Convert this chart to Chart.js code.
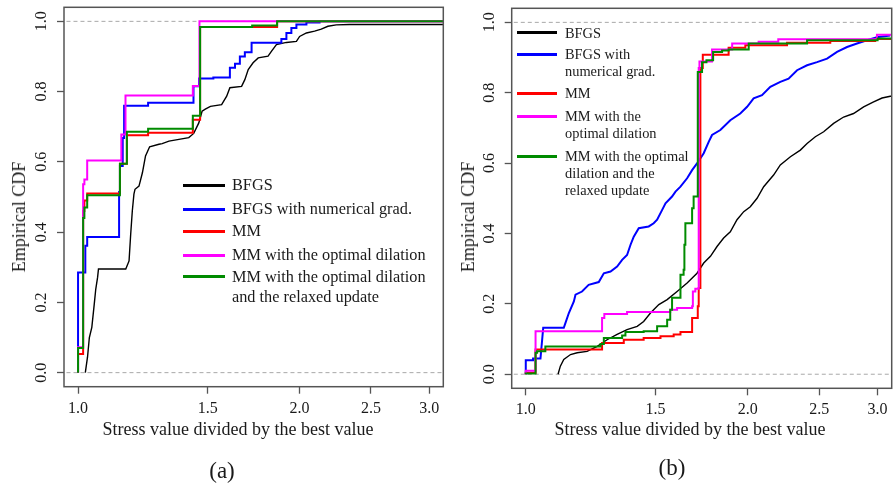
<!DOCTYPE html>
<html>
<head>
<meta charset="utf-8">
<script src="https://cdn.jsdelivr.net/npm/chart.js@4.4.0/dist/chart.umd.min.js"></script>
<style>
  html, body { margin: 0; padding: 0; background: #fff; }
  #page { position: relative; width: 893px; height: 484px; overflow: hidden;
          font-family: 'Liberation Serif', 'Times New Roman', serif; color: #1a1a1a; }
  canvas { position: absolute; top: 0; }
  .txt { position: absolute; white-space: nowrap; line-height: 1; }
  .key { position: absolute; height: 3px; }
</style>
</head>
<body>
<div id="page">
  <canvas id="chartA" width="446" height="484" style="left:0"></canvas>
  <canvas id="chartB" width="447" height="484" style="left:446px"></canvas>
</div>
<script>
// 坐标轴刻度
const xTicks = [1.0, 1.5, 2.0, 2.5, 3.0];
const yTicks = [0, 0.2, 0.4, 0.6, 0.8, 1.0];
const xLimits = [0.957, 3.135];
const yLimits = [-0.04, 1.04];
const refLevels = [0, 1];

// 图例文字
const seriesNames = ['BFGS', 'BFGS with numerical grad.', 'MM',
  'MM with the optimal dilation', 'MM with the optimal dilation and the relaxed update'];
const legendLinesA = [['BFGS'], ['BFGS with numerical grad.'], ['MM'],
  ['MM with the optimal dilation'], ['MM with the optimal dilation', 'and the relaxed update']];
const legendLinesB = [['BFGS'], ['BFGS with', 'numerical grad.'], ['MM'],
  ['MM with the', 'optimal dilation'], ['MM with the optimal', 'dilation and the', 'relaxed update']];
const seriesColors = ['#000000', '#0000ff', '#ff0000', '#ff00ff', '#008b00'];

// (a) 经验分布函数 [x, F(x)]
const aBfgs = [[1.023,0],[1.03,0.044],[1.036,0.1],[1.044,0.129],[1.052,0.195],[1.057,0.238],[1.063,0.271],
  [1.066,0.295],[1.161,0.295],[1.173,0.318],[1.179,0.394],[1.185,0.46],[1.191,0.508],[1.195,0.522],[1.21,0.531],
  [1.223,0.569],[1.235,0.617],[1.251,0.643],[1.288,0.65],[1.301,0.652],[1.329,0.659],[1.371,0.664],[1.414,0.669],
  [1.436,0.681],[1.459,0.711],[1.474,0.744],[1.489,0.75],[1.513,0.758],[1.567,0.763],[1.592,0.787],[1.608,0.811],
  [1.668,0.815],[1.685,0.834],[1.703,0.863],[1.729,0.882],[1.757,0.896],[1.812,0.901],[1.832,0.915],[1.86,0.934],
  [1.919,0.94],[1.98,0.943],[2.0,0.957],[2.043,0.967],[2.096,0.972],[2.14,0.978],[2.185,0.986],[2.243,0.99],
  [2.338,0.991],[3.3,0.991]];
const aBfgsNum = [[1.0,0],[1.0,0.285],[1.023,0.361],[1.029,0.386],[1.137,0.514],[1.14,0.588],[1.15,0.668],
  [1.155,0.76],[1.245,0.768],[1.435,0.815],[1.46,0.837],[1.527,0.84],[1.608,0.868],[1.634,0.879],[1.659,0.9],
  [1.685,0.912],[1.721,0.939],[1.889,0.95],[1.919,0.967],[1.949,0.981],[1.98,0.991],[2.043,0.997],[2.129,1.0],[3.3,1.0]];
const aMm = [[1.0,0],[1.0,0.053],[1.016,0.46],[1.02,0.49],[1.029,0.51],[1.14,0.595],[1.165,0.676],[1.245,0.683],
  [1.432,0.72],[1.465,0.984],[1.864,1.0],[3.3,1.0]];
const aMmOpt = [[1.0,0],[1.0,0.072],[1.016,0.536],[1.02,0.55],[1.029,0.604],[1.145,0.678],[1.16,0.789],
  [1.432,0.816],[1.462,1.0],[3.3,1.0]];
const aMmRelax = [[1.0,0],[1.0,0.07],[1.016,0.44],[1.02,0.47],[1.029,0.505],[1.14,0.595],[1.165,0.686],
  [1.245,0.694],[1.432,0.731],[1.465,0.984],[1.724,0.988],[1.864,1.0],[3.3,1.0]];

// (b)
const bBfgs = [[1.106,0],[1.114,0.023],[1.126,0.042],[1.15,0.056],[1.174,0.061],[1.211,0.065],[1.25,0.079],
  [1.289,0.098],[1.33,0.113],[1.372,0.127],[1.416,0.136],[1.445,0.15],[1.476,0.174],[1.515,0.198],[1.555,0.212],
  [1.604,0.235],[1.655,0.259],[1.707,0.287],[1.743,0.316],[1.78,0.335],[1.817,0.363],[1.855,0.387],[1.894,0.405],
  [1.934,0.439],[1.975,0.462],[2.016,0.476],[2.059,0.5],[2.102,0.533],[2.168,0.566],[2.214,0.595],[2.285,0.618],
  [2.357,0.637],[2.407,0.656],[2.47,0.675],[2.535,0.689],[2.615,0.713],[2.698,0.731],[2.783,0.741],[2.872,0.76],
  [2.963,0.774],[3.042,0.785],[3.121,0.79],[3.2,0.792]];
const bBfgsNum = [[1.0,0],[1.0,0.04],[1.023,0.04],[1.023,0.045],[1.047,0.045],[1.056,0.132],[1.126,0.132],
  [1.132,0.146],[1.144,0.174],[1.162,0.207],[1.168,0.226],[1.192,0.235],[1.217,0.254],[1.256,0.262],[1.276,0.287],
  [1.303,0.292],[1.33,0.306],[1.351,0.325],[1.372,0.339],[1.387,0.368],[1.401,0.391],[1.423,0.415],[1.468,0.42],
  [1.491,0.429],[1.507,0.439],[1.531,0.467],[1.547,0.486],[1.579,0.505],[1.596,0.519],[1.621,0.533],[1.655,0.557],
  [1.681,0.58],[1.707,0.599],[1.743,0.628],[1.771,0.661],[1.789,0.68],[1.836,0.694],[1.894,0.722],[1.954,0.741],
  [1.996,0.76],[2.037,0.784],[2.091,0.793],[2.146,0.817],[2.214,0.831],[2.272,0.84],[2.333,0.864],[2.407,0.878],
  [2.483,0.887],[2.562,0.897],[2.643,0.916],[2.727,0.93],[2.813,0.94],[2.902,0.949],[2.994,0.958],[3.121,0.963]];
const bMm = [[1.0,0],[1.0,0.004],[1.031,0.07],[1.269,0.089],[1.358,0.098],[1.445,0.103],[1.523,0.108],
  [1.587,0.113],[1.621,0.12],[1.681,0.16],[1.711,0.193],[1.716,0.245],[1.725,0.87],[1.738,0.908],[1.884,0.928],
  [1.985,0.935],[2.261,0.942],[2.588,0.947],[2.978,0.953],[3.3,0.953]];
const bMmOpt = [[1.0,0],[1.0,0.01],[1.031,0.122],[1.269,0.16],[1.278,0.171],[1.372,0.177],[1.57,0.183],
  [1.604,0.188],[1.681,0.193],[1.685,0.235],[1.698,0.243],[1.716,0.87],[1.72,0.889],[1.789,0.923],[1.905,0.94],
  [2.069,0.945],[2.2,0.952],[2.994,0.965],[3.3,0.965]];
const bMmRelax = [[1.0,0],[1.0,0.002],[1.031,0.061],[1.036,0.065],[1.063,0.079],[1.263,0.086],[1.276,0.103],
  [1.351,0.11],[1.365,0.12],[1.445,0.122],[1.507,0.136],[1.555,0.155],[1.57,0.183],[1.579,0.217],[1.621,0.283],
  [1.637,0.297],[1.641,0.368],[1.646,0.429],[1.681,0.472],[1.689,0.505],[1.711,0.859],[1.734,0.887],[1.758,0.892],
  [1.795,0.916],[1.846,0.92],[1.884,0.923],[2.006,0.94],[2.407,0.949],[3.0,0.954],[3.3,0.954]];

const FONT = "'Liberation Serif', 'Times New Roman', serif";
const page = document.getElementById('page');

// 画图框
const boxPlugin = {
  id: 'box',
  afterDatasetsDraw(chart) {
    const a = chart.chartArea, ctx = chart.ctx;
    ctx.save();
    ctx.strokeStyle = '#555';
    ctx.lineWidth = 1.5;
    ctx.strokeRect(a.left, a.top, a.right - a.left, a.bottom - a.top);
    ctx.restore();
  }
};

function toPoints(arr) {
  return arr.map(p => ({ x: p[0], y: p[1] }));
}

function buildChart(id, series, stepFlags, pad) {
  const datasets = [];
  series.forEach((s, i) => {
    datasets.push({
      label: seriesNames[i],
      data: toPoints(s),
      borderColor: seriesColors[i],
      borderWidth: i === 0 ? 1.4 : 2,
      stepped: stepFlags[i],
      pointRadius: 0,
      fill: false,
      order: 4 - i
    });
  });
  refLevels.forEach(level => {
    datasets.push({
      label: 'ref',
      data: [{ x: 0.5, y: level }, { x: 4, y: level }],
      borderColor: '#a8a8a8',
      borderWidth: 1,
      borderDash: [4, 3],
      pointRadius: 0,
      order: 9
    });
  });

  return new Chart(document.getElementById(id), {
    type: 'line',
    data: { datasets },
    plugins: [boxPlugin],
    options: {
      responsive: false,
      animation: false,
      layout: { autoPadding: false, padding: pad },
      plugins: { legend: { display: false }, tooltip: { enabled: false } },
      scales: {
        x: {
          type: 'logarithmic',
          min: xLimits[0], max: xLimits[1],
          afterBuildTicks: s => { s.ticks = xTicks.map(v => ({ value: v })); },
          afterFit: s => { s.height = 40; s.paddingLeft = 0; s.paddingRight = 0; },
          border: { display: false },
          grid: { drawOnChartArea: false, drawTicks: true, tickLength: 7, tickColor: '#555', tickWidth: 1.3 },
          ticks: {
            autoSkip: false, maxRotation: 0, padding: 5, color: '#1a1a1a',
            font: { family: FONT, size: 16 },
            callback: v => Number(v).toFixed(1)
          }
        },
        y: {
          type: 'linear',
          min: yLimits[0], max: yLimits[1],
          afterBuildTicks: s => { s.ticks = yTicks.map(v => ({ value: v })); },
          afterFit: s => { s.width = pad.yw; s.paddingTop = 0; s.paddingBottom = 0; },
          border: { display: false },
          grid: { drawOnChartArea: false, drawTicks: true, tickLength: 7, tickColor: '#555', tickWidth: 1.3 },
          ticks: {
            minRotation: 90, maxRotation: 90, crossAlign: 'center', padding: 5, color: '#1a1a1a',
            font: { family: FONT, size: 16 },
            callback: v => Number(v).toFixed(1)
          }
        }
      }
    }
  });
}

buildChart('chartA', [aBfgs, aBfgsNum, aMm, aMmOpt, aMmRelax], [false, true, true, true, true],
  { left: 0, top: 7.3, right: 2.7, bottom: 57.3, yw: 64 });
buildChart('chartB', [bBfgs, bBfgsNum, bMm, bMmOpt, bMmRelax], [false, false, true, true, true],
  { left: 0, top: 8.3, right: 1.3, bottom: 55.7, yw: 65.7 });

// HTML 文字
function addText(str, cx, cy, size, opts) {
  const el = document.createElement('div');
  el.className = 'txt';
  el.textContent = str;
  el.style.fontSize = size + 'px';
  el.style.left = cx + 'px';
  el.style.top = cy + 'px';
  el.style.transform = (opts && opts.rotate) ? 'translate(-50%,-50%) rotate(-90deg)' : 'translate(-50%,-50%)';
  page.appendChild(el);
}

function addLegend(lines, x1, x2, tx, rows, gap, size) {
  lines.forEach((entry, i) => {
    const key = document.createElement('div');
    key.className = 'key';
    key.style.left = x1 + 'px';
    key.style.width = (x2 - x1) + 'px';
    key.style.top = (rows[i] - 1.5) + 'px';
    key.style.background = seriesColors[i];
    page.appendChild(key);
    entry.forEach((t, j) => {
      const el = document.createElement('div');
      el.className = 'txt';
      el.textContent = t;
      el.style.fontSize = size + 'px';
      el.style.left = tx + 'px';
      el.style.top = (rows[i] + j * gap - size / 2) + 'px';
      page.appendChild(el);
    });
  });
}

addText('Stress value divided by the best value', 238, 429, 18);
addText('Stress value divided by the best value', 690, 429, 18);
addText('Empirical CDF', 19, 217, 18, { rotate: true });
addText('Empirical CDF', 468, 217, 18, { rotate: true });
addText('(a)', 222, 470, 23);
addText('(b)', 672, 467, 23);

addLegend(legendLinesA, 183, 225, 232, [185, 209.3, 231, 255, 276.7], 20, 16.3);
addLegend(legendLinesB, 517, 557, 565, [32.7, 54.3, 93, 116, 156], 17.3, 14.4);
</script>
</body>
</html>
